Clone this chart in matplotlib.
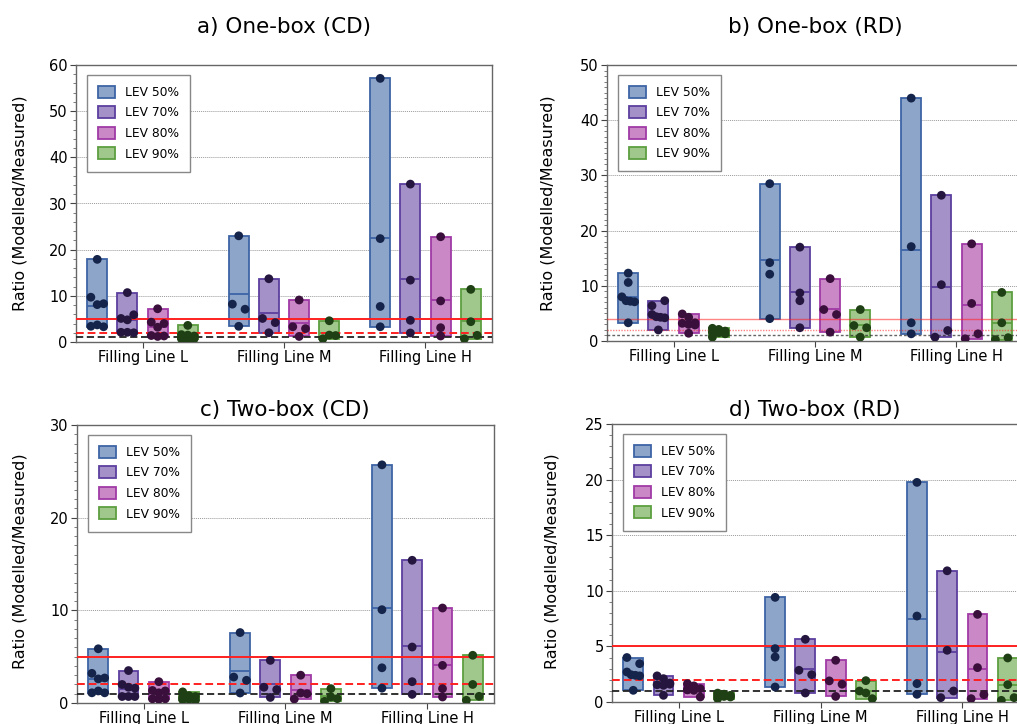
import matplotlib
matplotlib.use("Agg")
import matplotlib.pyplot as plt
import numpy as np
from matplotlib.ticker import MultipleLocator

# ---- data (ratio modelled/measured), one list per filling line: L, M, H ----
categories = ["Filling Line L", "Filling Line M", "Filling Line H"]
levels = ["LEV 50%", "LEV 70%", "LEV 80%", "LEV 90%"]
titles = ["a) One-box (CD)", "b) One-box (RD)", "c) Two-box (CD)", "d) Two-box (RD)"]

one_box_cd = {
    "LEV 50%": [[17.9, 9.7, 8.1, 8.3, 3.4, 3.7, 3.3], [23.0, 8.2, 7.1, 3.4], [57.1, 22.4, 7.7, 3.3]],
    "LEV 70%": [[10.7, 5.1, 4.8, 5.9, 2.1, 2.1, 2.0], [13.7, 5.1, 4.2, 2.0], [34.2, 13.4, 4.7, 1.95]],
    "LEV 80%": [[7.2, 4.3, 3.2, 4.0, 1.4, 1.2, 1.3], [9.1, 3.3, 2.9, 1.2], [22.8, 8.9, 3.1, 1.3]],
    "LEV 90%": [[3.6, 1.6, 1.5, 1.3, 0.7, 0.6, 0.7], [4.6, 0.7, 1.5, 1.4], [11.4, 4.4, 0.7, 1.45]],
}
one_box_rd = {
    "LEV 50%": [[12.3, 10.6, 8.0, 7.3, 7.2, 7.1, 3.3], [28.5, 14.2, 12.1, 4.05], [44.0, 17.1, 3.3, 1.3]],
    "LEV 70%": [[6.4, 7.3, 4.8, 4.4, 4.3, 4.2, 2.0], [17.0, 8.7, 7.3, 2.4], [26.4, 10.2, 0.7, 1.9]],
    "LEV 80%": [[4.9, 4.3, 3.3, 3.2, 3.0, 2.9, 1.4], [11.3, 5.7, 4.8, 1.6], [17.6, 6.8, 0.4, 1.3]],
    "LEV 90%": [[2.3, 2.1, 1.8, 1.6, 1.5, 1.3, 0.7], [5.7, 2.8, 2.4, 0.7], [8.8, 3.3, 0.25, 0.6]],
}
two_box_cd = {
    "LEV 50%": [[5.85, 3.2, 2.6, 2.7, 1.1, 1.3, 1.1], [7.6, 2.8, 2.45, 1.08], [25.7, 10.07, 3.8, 1.6]],
    "LEV 70%": [[3.5, 2.0, 1.7, 1.6, 0.7, 0.7, 0.7], [4.6, 1.7, 1.45, 0.6], [15.4, 6.04, 2.3, 0.93]],
    "LEV 80%": [[2.3, 1.35, 1.1, 1.3, 0.45, 0.4, 0.45], [3.0, 0.43, 1.08, 1.0], [10.25, 4.06, 1.55, 0.65]],
    "LEV 90%": [[1.2, 0.8, 0.7, 0.6, 0.4, 0.3, 0.35], [1.55, 0.18, 0.65, 0.47], [5.15, 2.0, 0.29, 0.72]],
}
two_box_rd = {
    "LEV 50%": [[4.0, 3.45, 2.7, 2.45, 2.4, 2.35, 1.05], [9.41, 4.8, 4.05, 1.35], [19.75, 7.73, 1.65, 0.69]],
    "LEV 70%": [[2.35, 2.1, 1.7, 1.55, 1.5, 1.6, 0.6], [5.64, 2.85, 2.46, 0.81], [11.8, 4.65, 0.39, 0.99]],
    "LEV 80%": [[1.65, 1.45, 1.2, 1.1, 1.05, 0.45, 1.1], [3.75, 1.9, 1.6, 0.5], [7.88, 3.09, 0.3, 0.66]],
    "LEV 90%": [[0.8, 0.7, 0.6, 0.55, 0.5, 0.45, 0.3], [1.92, 0.99, 0.81, 0.3], [3.96, 1.56, 0.15, 0.39]],
}
panels = [one_box_cd, one_box_rd, two_box_cd, two_box_rd]

y_max = [60, 50, 30, 25]
y_major = [10, 10, 10, 5]
y_minor = [2, 1, 1, 1]
limit_upper = [5, 4, 5, 5]   # red solid
limit_lower = [2, 2, 2, 2]   # red dashed
unity = [1, 1, 1, 1]         # black dashed

# ---- style ----
fills = ["#8da5c8", "#a391c7", "#cb88c6", "#a0c88c"]
edges = ["#3e64a6", "#5c3f9e", "#a03aa6", "#5d9f40"]
dots = ["#15244a", "#25163f", "#3a0f3c", "#1f4014"]
offsets = [-0.32, -0.107, 0.107, 0.32]
bar_w = 0.14

# axes boxes in pixels: left, top, width, height (figure 1017 x 724)
W, H = 1017, 724
boxes = [(76, 65, 416, 277), (607, 65, 416, 276), (77, 425, 417, 278), (612, 424, 417, 278)]
title_xy = [(284, 27), (815, 27), (285, 410), (815, 410)]
ylabel_xy = [(20, 203), (548, 203), (20, 561), (552, 561)]


def swarm(values, px_per_unit, gap=7.6, half=0.045):
    """Spread neighbouring points sideways (in listing order)."""
    groups = [[0]]
    for i in range(1, len(values)):
        if abs(values[i] - values[i - 1]) * px_per_unit < gap:
            groups[-1].append(i)
        else:
            groups.append([i])
    offs = np.zeros(len(values))
    for g in groups:
        n = len(g)
        if n == 1:
            continue
        slots = np.linspace(-1, 1, n) if n <= 4 else np.array([-1, 0, 1] * 3)[:n]
        offs[g] = slots * half
    return offs


fig = plt.figure(figsize=(W / 100, H / 100), dpi=100)

for p, data in enumerate(panels):
    left, top, w, h = boxes[p]
    ax = fig.add_axes([left / W, 1 - (top + h) / H, w / W, h / H])
    ax.set_xlim(-0.47, 2.47)
    ax.set_ylim(0, y_max[p])
    px_per_unit = h / y_max[p]

    for k, lev in enumerate(levels):
        for j in range(len(categories)):
            vals = np.array(data[lev][j])
            x = j + offsets[k]
            lo, hi = vals.min(), vals.max()
            ax.bar(x, hi - lo, bottom=lo, width=bar_w, color=fills[k], edgecolor=edges[k],
                   linewidth=1.3, zorder=2, label=lev if j == 0 else None)
            ax.hlines(vals.mean(), x - bar_w / 2, x + bar_w / 2, color=edges[k], lw=1.3, zorder=3)
            ax.scatter(x + swarm(vals, px_per_unit), vals, s=40, color=dots[k],
                       edgecolor="none", zorder=6)

    faint = p == 1
    ax.axhline(limit_upper[p], color="#ff2020", lw=1.0 if faint else 1.4,
               alpha=0.55 if faint else 1, zorder=4)
    ax.axhline(limit_lower[p], color="#ff2020", lw=1.0 if faint else 1.4,
               ls=(0, (1, 1)) if faint else (0, (4, 2)), alpha=0.55 if faint else 1, zorder=4)
    ax.axhline(unity[p], color="#222222", lw=1.0 if faint else 1.3,
               ls=(0, (2, 1.5)) if faint else (0, (4, 2)), alpha=0.7 if faint else 1, zorder=4)

    ax.set_xticks(range(len(categories)))
    ax.set_xticklabels(categories)
    ax.yaxis.set_major_locator(MultipleLocator(y_major[p]))
    ax.yaxis.set_minor_locator(MultipleLocator(y_minor[p]))
    ax.tick_params(axis="both", which="major", direction="out", length=4, color="#444444",
                   labelsize=10.5, pad=2)
    ax.tick_params(axis="y", which="minor", direction="out", length=2, color="#666666")
    ax.tick_params(axis="x", pad=2)

    ax.yaxis.grid(True, which="major", color="#9a9a9a", lw=0.7, ls=(0, (1, 1)))
    ax.set_axisbelow(True)
    for s in ax.spines.values():
        s.set_color("#666666")
        s.set_linewidth(1.0)

    leg = ax.legend(loc="upper left", bbox_to_anchor=(0.027, 0.965), borderaxespad=0,
                    fontsize=8.8, fancybox=False, framealpha=1, edgecolor="#888888",
                    handlelength=1.35, handleheight=1.15, labelspacing=0.6,
                    handletextpad=0.8, borderpad=0.9)
    leg.set_zorder(10)
    leg.get_frame().set_linewidth(1.0)

    fig.text(title_xy[p][0] / W, 1 - title_xy[p][1] / H, titles[p], ha="center", va="center",
             fontsize=15.5)
    fig.text(ylabel_xy[p][0] / W, 1 - ylabel_xy[p][1] / H, "Ratio (Modelled/Measured)",
             rotation=90, ha="center", va="center", fontsize=11.5)

fig.savefig("out.png", dpi=100)
